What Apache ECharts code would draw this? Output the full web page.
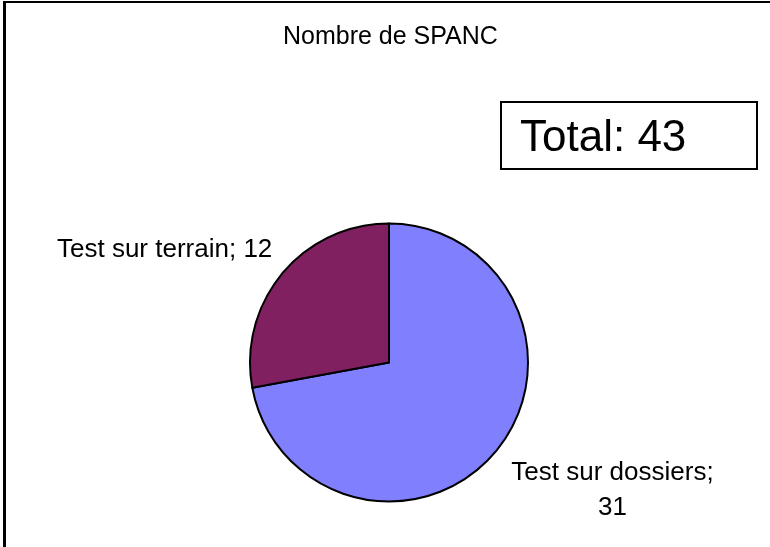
<!DOCTYPE html>
<html>
<head>
<meta charset="utf-8">
<script src="https://cdn.jsdelivr.net/npm/echarts@6/dist/echarts.min.js"></script>
<style>
html,body{margin:0;padding:0;background:#fff;}
#chart{width:770px;height:547px;}
</style>
</head>
<body>
<div id="chart"></div>
<script>
var titleText = "Nombre de SPANC";
var categories = ["Test sur dossiers", "Test sur terrain"];
var values = [31, 12];
var totalLabel = "Total: 43";
var colors = ["#8080FF", "#802060"];

var chart = echarts.init(document.getElementById('chart'), null, {renderer: 'canvas'});
var font = '"Liberation Sans", Arial, sans-serif';
var data = categories.map(function (c, i) {
  return {name: c, value: values[i], itemStyle: {color: colors[i]}};
});
chart.setOption({
  animation: false,
  backgroundColor: '#fff',
  title: {
    text: titleText,
    left: 283,
    top: 25,
    padding: 0,
    textStyle: {fontFamily: font, fontSize: 25, fontWeight: 'normal', color: '#000'}
  },
  graphic: [
    {type: 'line', shape: {x1: 3, y1: 2, x2: 770, y2: 2}, style: {stroke: '#000', lineWidth: 2}},
    {type: 'line', shape: {x1: 4.5, y1: 1, x2: 4.5, y2: 547}, style: {stroke: '#000', lineWidth: 3}},
    {type: 'rect', shape: {x: 501, y: 102, width: 256, height: 67}, style: {fill: '#fff', stroke: '#000', lineWidth: 2}},
    {type: 'text', left: 520, top: 117, style: {text: totalLabel, font: '44px ' + font, fill: '#000'}}
  ],
  series: [{
    type: 'pie',
    center: [389, 362.5],
    radius: [0, 139],
    startAngle: 90,
    clockwise: true,
    data: data,
    itemStyle: {borderColor: '#000', borderWidth: 2},
    emphasis: {disabled: true},
    labelLine: {show: false},
    label: {
      show: true,
      position: 'outside',
      fontFamily: font,
      fontSize: 26,
      color: '#000',
      lineHeight: 35,
      formatter: function (p) {
        return p.dataIndex === 0 ? p.name + ';\n' + p.value : p.name + '; ' + p.value;
      }
    },
    labelLayout: function (params) {
      if (params.dataIndex === 0) {
        return {x: 612.5, y: 490, align: 'center', verticalAlign: 'middle'};
      }
      return {x: 57, y: 250, align: 'left', verticalAlign: 'middle'};
    }
  }]
});
</script>
</body>
</html>
